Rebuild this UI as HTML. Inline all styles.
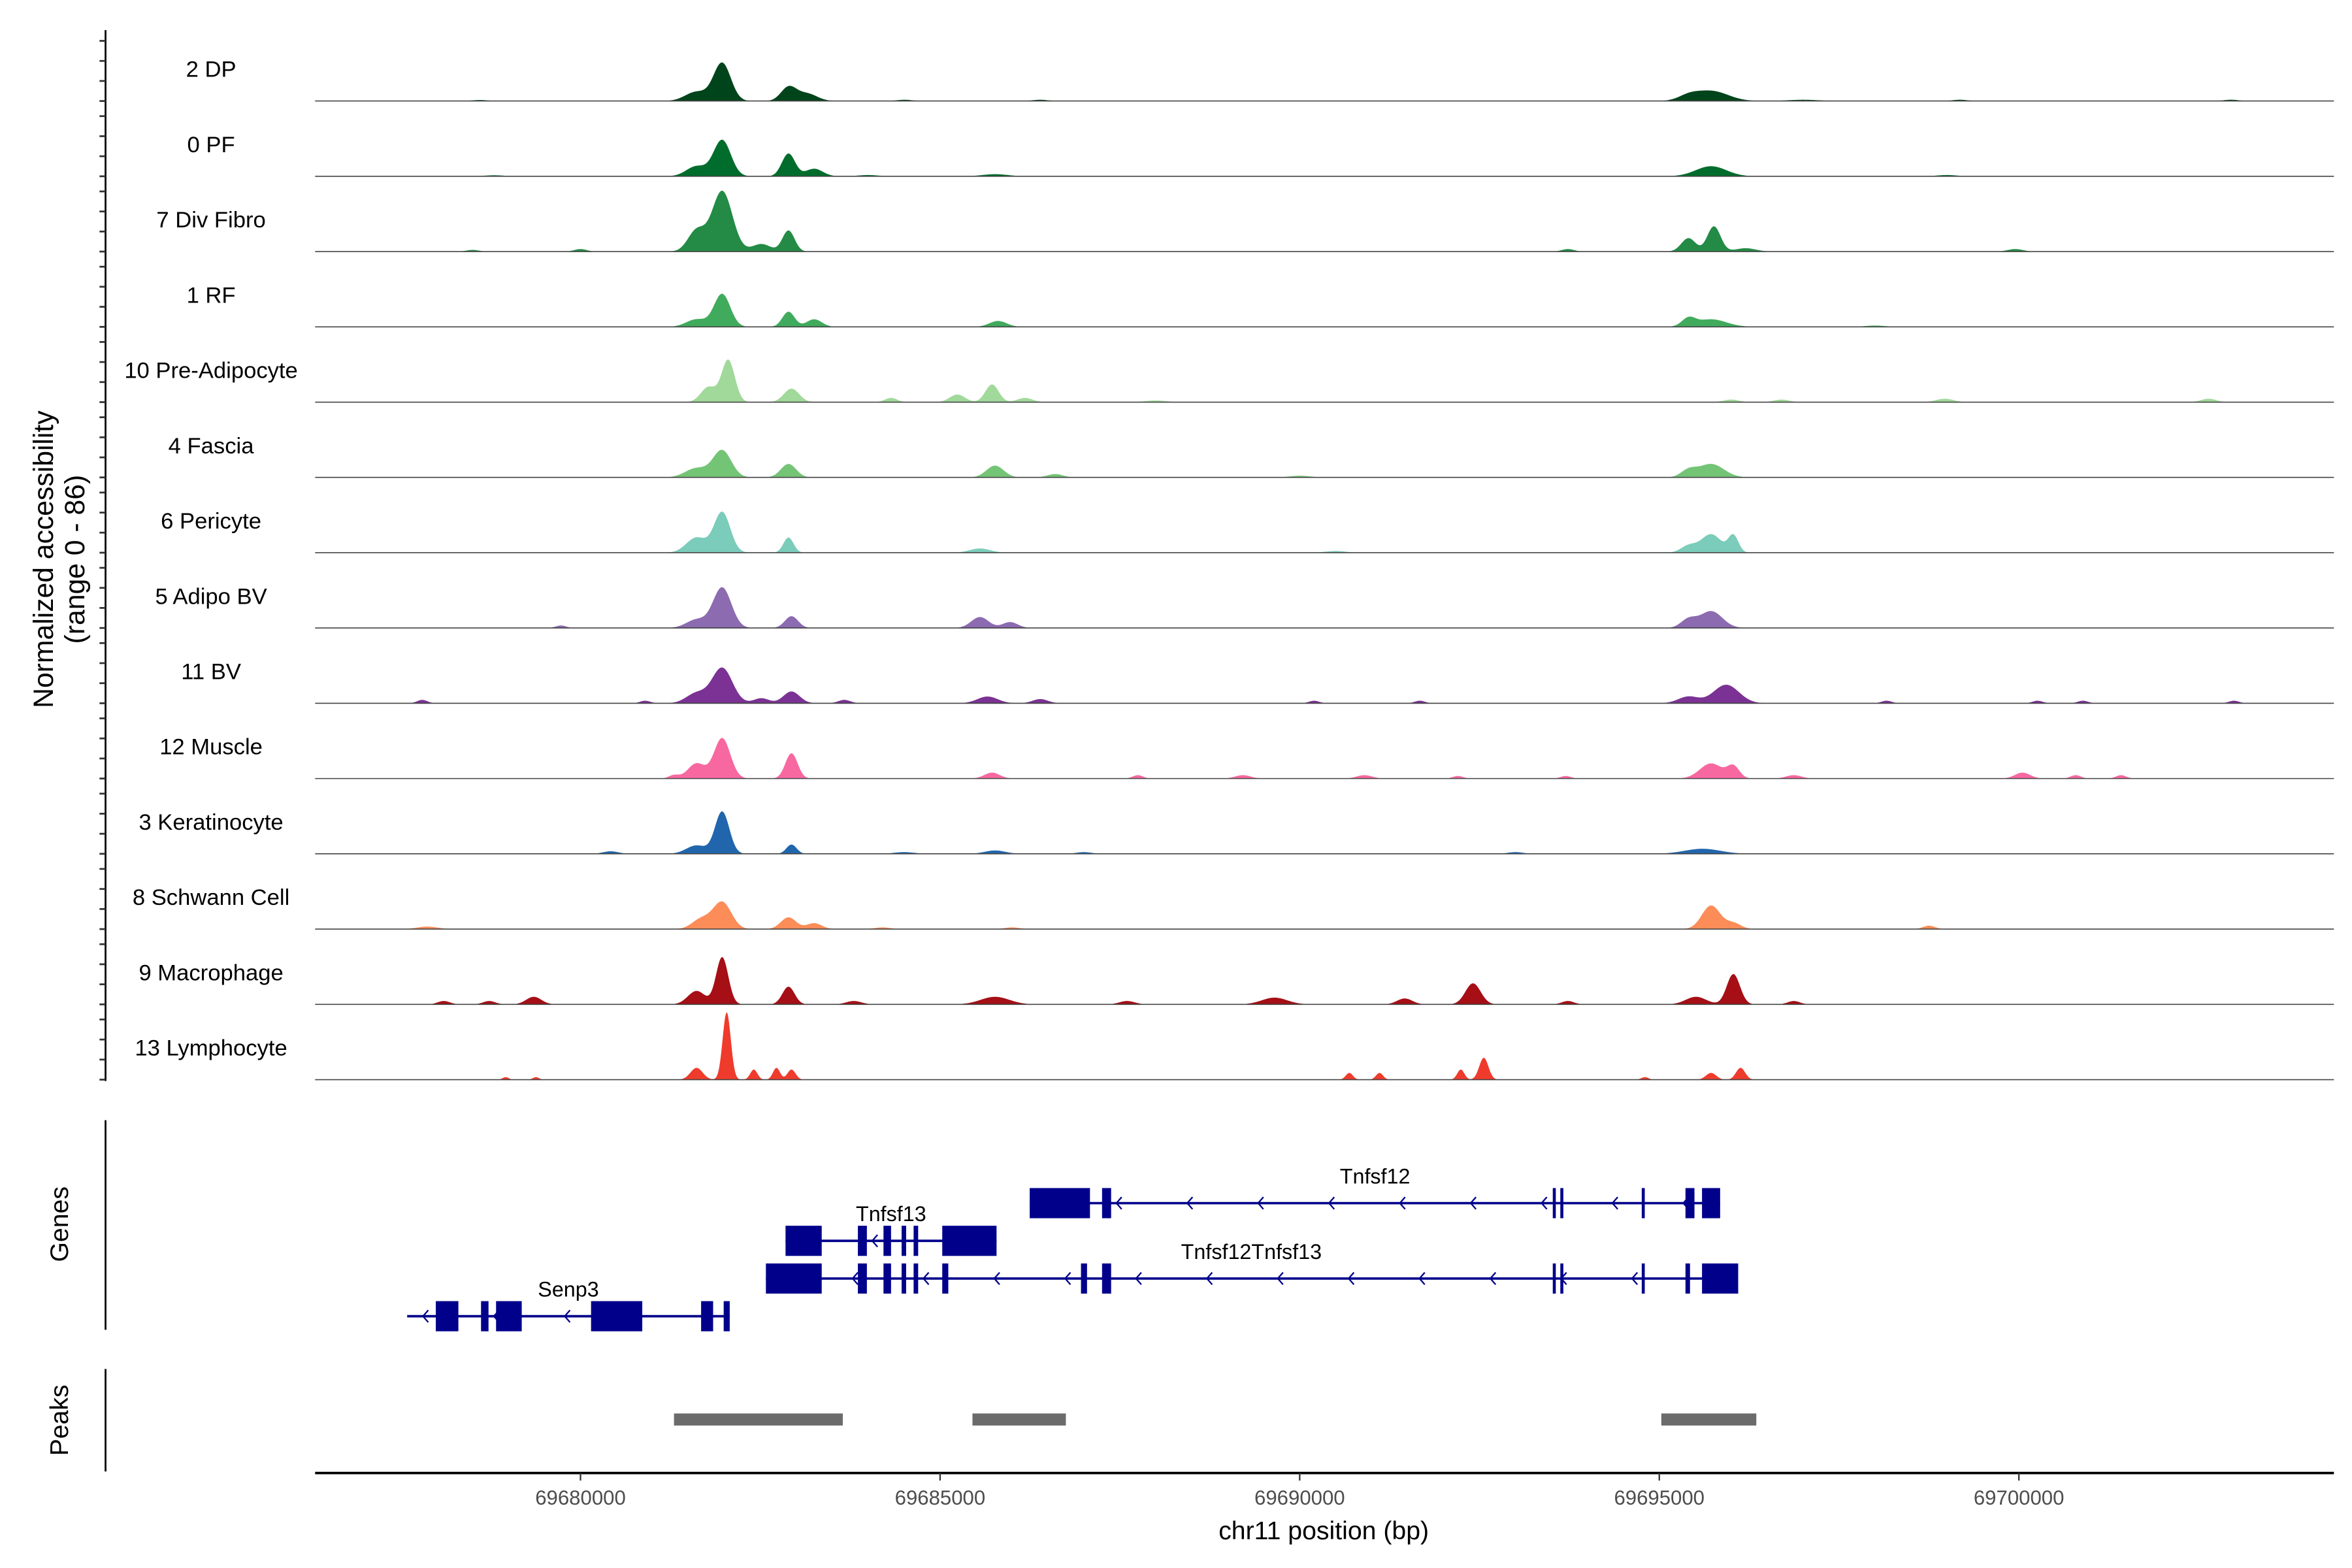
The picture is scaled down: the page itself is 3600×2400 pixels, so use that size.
<!DOCTYPE html>
<html><head><meta charset="utf-8"><style>
html,body{margin:0;padding:0;background:#fff}
svg{display:block;font-family:"Liberation Sans",sans-serif}
</style></head><body>
<svg id="chart" width="3600" height="2400" viewBox="0 0 1560 1040" xmlns="http://www.w3.org/2000/svg">
<g id="tracks"></g>
<g id="genes"></g>
<g id="peaks"></g>
<g id="axes"></g>
</svg>
<script>
// ---- data ----
const trackNames = ["2 DP","0 PF","7 Div Fibro","1 RF","10 Pre-Adipocyte","4 Fascia","6 Pericyte","5 Adipo BV","11 BV","12 Muscle","3 Keratinocyte","8 Schwann Cell","9 Macrophage","13 Lymphocyte"];
const trackColors = ["#00441B","#006D2C","#238B45","#41AB5D","#A1D99B","#74C476","#7BCCBA","#8C6BB1","#7B3294","#F768A1","#2166AC","#FC8D59","#A50F15","#EF3B2C"];
// peak positions (bp), heights (normalized, 0-86), widths (bp)
const peakPos = [
 [69681970,69681614,69682892,69683144,69695720,69695406,69684506,69686393,69699178,69702950,69678600,69697000],
 [69681970,69681614,69682892,69683249,69695720,69685764,69684000,69699000,69678800],
 [69681970,69681614,69682892,69682515,69695760,69695406,69693729,69696200,69680000,69699950,69678500],
 [69681970,69681614,69682892,69683249,69685806,69695720,69695406,69698000],
 [69682054,69681780,69682934,69684318,69685240,69685722,69686180,69698969,69702637,69696700,69696000,69688000],
 [69681970,69681614,69682892,69685764,69686600,69695720,69695406,69690000],
 [69681970,69681614,69682892,69685554,69695720,69696030,69695406,69690500],
 [69681970,69681614,69682934,69685554,69685974,69695720,69695406,69679728],
 [69681970,69681614,69682515,69682934,69683668,69685660,69686393,69695930,69695406,69677800,69680900,69690200,69691670,69698160,69700260,69700890,69702990],
 [69681970,69681614,69682934,69681300,69685722,69687750,69689210,69690900,69695720,69696030,69696870,69700050,69700790,69701420,69692200,69693700],
 [69681970,69681614,69682934,69680420,69685764,69695600,69684500,69687000,69693000],
 [69681970,69681680,69682892,69683249,69677870,69695720,69696030,69698750,69684200,69686000],
 [69681970,69681614,69682892,69679350,69678100,69678730,69685764,69689650,69691460,69692410,69696030,69695510,69696870,69693729,69683800,69687600],
 [69682033,69681614,69682410,69682725,69682934,69678960,69679380,69690690,69691110,69692560,69692240,69694800,69695720,69696130]
];
const peakHeights = [
 [45,11,16,9,12,5,1.5,1.5,1.5,1.5,1.2,1.5],
 [43,12,27,9,12,2.5,1.5,1.5,1.2],
 [72,25,25,9,30,16,3,4,3,3,2],
 [39,9,18,9,7,9,9,1.5],
 [50,18,16,5,9,21,5,4,4,3,3,2],
 [32,11,16,14,4,16,8,2],
 [48,18,18,5,22,20,8,2],
 [48,10,14,13,7,20,10,3],
 [42,12,6,14,4,8,5,22,8,4,3,3,3,3,3,3,3],
 [48,18,30,4,7,4,4,4,18,14,4,7,4,4,3,3],
 [50,10,11,3,4,6,2,2,2],
 [32,12,14,7,3,28,7,4,2,2],
 [56,16,21,9,4,4,9,8,7,25,36,9,4,4,4,4],
 [80,14,12,14,12,3,3,8,8,26,12,3,8,14]
];
const peakWidths = [
 [170,220,150,200,330,200,150,150,150,150,150,300],
 [170,200,130,170,300,250,200,200,200],
 [200,170,120,180,130,140,120,200,120,150,120],
 [160,200,120,150,170,300,130,200],
 [130,150,150,120,150,130,150,170,150,150,150,200],
 [180,220,150,170,150,250,150,200],
 [160,200,100,200,200,100,150,200],
 [180,200,130,170,150,220,150,100],
 [200,200,150,160,120,200,150,250,200,100,100,100,100,100,100,100,100],
 [160,170,120,100,150,100,150,150,220,120,150,150,100,100,100,100],
 [140,200,100,150,200,350,200,150,150],
 [180,180,150,150,200,180,150,120,150,150],
 [120,170,120,150,120,120,280,250,150,150,130,200,120,120,150,150],
 [80,120,70,70,80,60,60,70,70,90,70,70,100,90]
];
// gene models (bp)
const geneNames = ["Tnfsf12","Tnfsf13","Tnfsf12Tnfsf13","Senp3"];
const geneStarts = [69686246,69682851,69682578,69677590];
const geneEnds = [69695846,69685785,69696097,69682075];
const geneExons = [
 [[69686246,69687084],[69687252,69687378],[69693519,69693561],[69693624,69693666],[69694756,69694798],[69695364,69695489],[69695594,69695846]],
 [[69682851,69683354],[69683857,69683982],[69684213,69684318],[69684465,69684528],[69684632,69684695],[69685030,69685785]],
 [[69682578,69683354],[69683857,69683982],[69684213,69684318],[69684465,69684528],[69684632,69684695],[69685030,69685114],[69686959,69687043],[69687252,69687378],[69693519,69693561],[69693624,69693666],[69694756,69694798],[69695364,69695427],[69695594,69696097]],
 [[69677988,69678302],[69678617,69678721],[69678826,69679183],[69680147,69680859],[69681677,69681844],[69681991,69682075]]
];
const peakRegionStarts = [69681300,69685450,69695028];
const peakRegionEnds = [69683647,69686749,69696349];
const xTicks = [69680000,69685000,69690000,69695000,69700000];
const yMax = 86;

// ---- scales ----
const X0=209, X1=1548, BP0=69676310, BP1=69704380;
function xs(bp){return X0+(bp-BP0)/(BP1-BP0)*(X1-X0);}
const TRACK_TOP=67, TRACK_STEP=49.93, TRACK_H=48;
function ys(v,i){return TRACK_TOP+i*TRACK_STEP - v/yMax*TRACK_H;}

const NS="http://www.w3.org/2000/svg";
function mk(tag,attrs,parent){const e=document.createElementNS(NS,tag);for(const k in attrs)e.setAttribute(k,attrs[k]);parent.appendChild(e);return e;}

// ---- tracks ----
const gT=document.getElementById('tracks');
trackNames.forEach((name,i)=>{
  const base=ys(0,i);
  const g=mk('g',{},gT);
  
  
  let d='M'+X0+','+base;
  for(let px=X0;px<=X1;px+=0.5){
    const bp=BP0+(px-X0)/(X1-X0)*(BP1-BP0);
    let v=0;
    for(let k=0;k<peakPos[i].length;k++){
      const t=(bp-peakPos[i][k])/peakWidths[i][k];
      v+=peakHeights[i][k]*Math.exp(-t*t);
    }
    if(v<0.4)v=0;
    d+=' L'+px.toFixed(1)+','+ys(v,i).toFixed(2);
  }
  d+=' L'+X1+','+base+' Z';
  const a=mk('path',{d:d,fill:trackColors[i],stroke:'none'},g);
  
  
  const l=mk('line',{x1:X0,x2:X1,y1:base,y2:base,stroke:'#444',"stroke-width":0.7},g);
  
  
  const t=mk('text',{x:140,y:base-16,"text-anchor":"middle","font-size":15,fill:'#000'},g);
  t.textContent=name;
  
  
});

// ---- left axes ----
const gA=document.getElementById('axes');
mk('line',{x1:70,x2:70,y1:20,y2:717,stroke:'#000',"stroke-width":1.2},gA);
for(let i=0;i<trackNames.length;i++){
  for(let k=0;k<4;k++){
    const y=ys(0,i)-k*13.3;
    const tk=mk('line',{x1:66,x2:70,y1:y,y2:y,stroke:'#333',"stroke-width":1.2},gA);
    
    
  }
}
const yt=mk('text',{transform:'translate(35,371) rotate(-90)',"text-anchor":"middle","font-size":18.5},gA);


yt.textContent='Normalized accessibility';
const yt2=mk('text',{transform:'translate(56,371) rotate(-90)',"text-anchor":"middle","font-size":18.5},gA);


yt2.textContent='(range 0 - 86)';

// genes panel
mk('line',{x1:70,x2:70,y1:743,y2:882,stroke:'#000',"stroke-width":1.2},gA);
const gl=mk('text',{transform:'translate(45,812) rotate(-90)',"text-anchor":"middle","font-size":17},gA);


gl.textContent='Genes';
mk('line',{x1:70,x2:70,y1:908,y2:976,stroke:'#000',"stroke-width":1.2},gA);
const pl=mk('text',{transform:'translate(45,942) rotate(-90)',"text-anchor":"middle","font-size":17},gA);


pl.textContent='Peaks';

// x axis
mk('line',{x1:X0,x2:X1,y1:977,y2:977,stroke:'#000',"stroke-width":1.6},gA);
xTicks.forEach(v=>{
  const x=xs(v);
  const tk=mk('line',{x1:x,x2:x,y1:977,y2:982,stroke:'#333',"stroke-width":1},gA);
  
  
  const t=mk('text',{x:x,y:998,"text-anchor":"middle","font-size":13.5,fill:'#4D4D4D'},gA);
  
  
  t.textContent=v;
});
const xt=mk('text',{x:878,y:1021,"text-anchor":"middle","font-size":17},gA);


xt.textContent='chr11 position (bp)';

// ---- genes ----
const gG=document.getElementById('genes');
const geneY=[798,823,848,873];
const labelY=[785,810,835,860];
const labelX=[912,591,830,377];
geneNames.forEach((n,i)=>{
  const g=mk('g',{},gG);
  
  
  const y=geneY[i];
  const x0=xs(geneStarts[i]), x1=xs(geneEnds[i]);
  mk('line',{x1:x0,x2:x1,y1:y,y2:y,stroke:'#00008B',"stroke-width":1.6},g);
  for(let cx=x0+12;cx<x1-8;cx+=47){
    mk('path',{d:`M${cx+2},${y-4} L${cx-1.5},${y} L${cx+2},${y+4}`,fill:'none',stroke:'#00008B',"stroke-width":1},g);
  }
  geneExons[i].forEach(e=>{
    const r=mk('rect',{x:xs(e[0]),y:y-10,width:Math.max(1,xs(e[1])-xs(e[0])),height:20,fill:'#00008B'},g);
    
    
  });
  const t=mk('text',{x:labelX[i],y:labelY[i],"text-anchor":"middle","font-size":14},g);
  
  
  t.textContent=n;
});

// ---- peaks ----
const gP=document.getElementById('peaks');
peakRegionStarts.forEach((s,i)=>{
  const r=mk('rect',{x:xs(s),y:937.5,width:xs(peakRegionEnds[i])-xs(s),height:8,fill:'#6B6B6B'},gP);
  
  
});
</script>
</body></html>
